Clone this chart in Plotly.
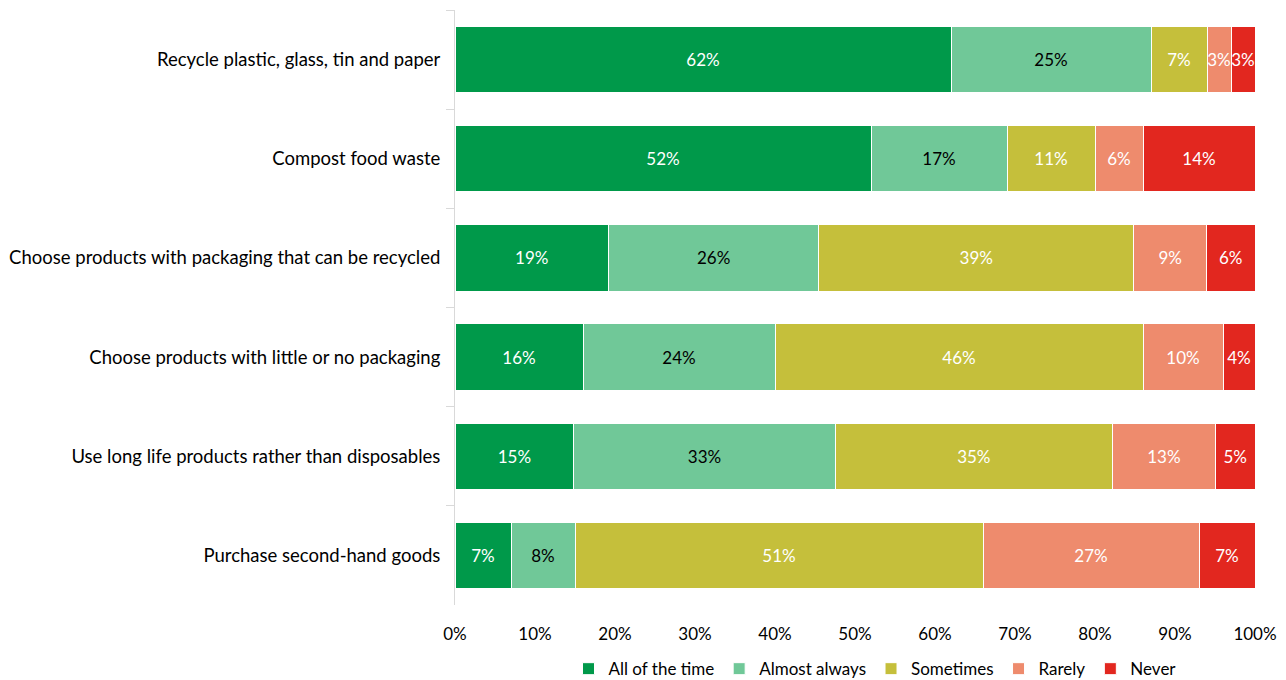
import plotly.graph_objects as go

categories = [
    "Recycle plastic, glass, tin and paper",
    "Compost food waste",
    "Choose products with packaging that can be recycled",
    "Choose products with little or no packaging",
    "Use long life products rather than disposables",
    "Purchase second-hand goods",
]

all_of_the_time = [62, 52, 19, 16, 15, 7]
almost_always = [25, 17, 26, 24, 33, 8]
sometimes = [7, 11, 39, 46, 35, 51]
rarely = [3, 6, 9, 10, 13, 27]
never = [3, 14, 6, 4, 5, 7]

series = [
    ("All of the time", all_of_the_time, "#00994A", "white"),
    ("Almost always", almost_always, "#70C898", "black"),
    ("Sometimes", sometimes, "#C5BF3B", "white"),
    ("Rarely", rarely, "#EE8B6D", "white"),
    ("Never", never, "#E2271F", "white"),
]

FONT = "Lato, Open Sans, sans-serif"

fig = go.Figure()
for name, vals, color, tcolor in series:
    fig.add_trace(go.Bar(
        y=categories,
        x=vals,
        name=name,
        orientation="h",
        marker=dict(color=color, line=dict(color="white", width=1)),
        text=[f"{v}%" for v in vals],
        textposition="inside",
        insidetextanchor="middle",
        textangle=0,
        textfont=dict(color=tcolor, size=17, family=FONT),
        hoverinfo="skip",
    ))

fig.update_layout(
    barmode="stack",
    barnorm="percent",
    bargap=0.33,
    width=1286,
    height=680,
    margin=dict(l=455, r=31, t=10, b=75, autoexpand=False),
    plot_bgcolor="white",
    paper_bgcolor="white",
    font=dict(family=FONT, size=16, color="black"),
    uniformtext=dict(mode="show", minsize=17),
    legend=dict(
        orientation="h",
        x=0.525,
        xanchor="center",
        xref="paper",
        y=0.016,
        yref="container",
        yanchor="middle",
        font=dict(size=17),
        itemwidth=30,
        traceorder="normal",
    ),
    xaxis=dict(
        range=[0, 100],
        tickvals=list(range(0, 101, 10)),
        ticktext=[f"{v}%" for v in range(0, 101, 10)],
        showgrid=False,
        zeroline=False,
        showline=False,
        ticks="",
        ticklabelstandoff=17,
        tickfont=dict(size=17),
    ),
    yaxis=dict(
        categoryorder="array",
        categoryarray=categories,
        autorange="reversed",
        showline=True,
        linecolor="#D9D9D9",
        linewidth=1,
        ticks="outside",
        tickson="boundaries",
        ticklen=8,
        tickcolor="#D9D9D9",
        ticklabelstandoff=10,
        showgrid=False,
        tickfont=dict(size=18.5),
    ),
)

fig.write_html("out.html")
